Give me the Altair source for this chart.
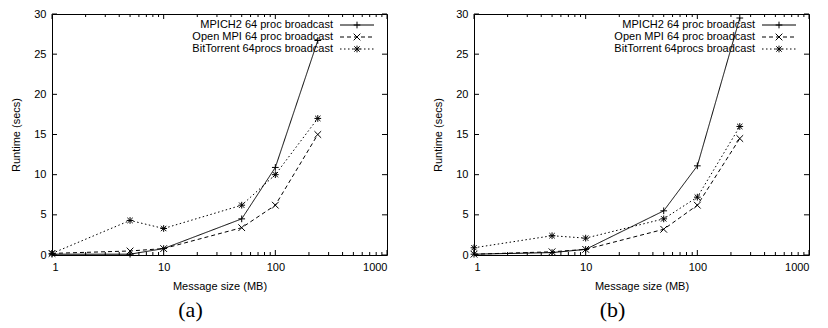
import altair as alt
import pandas as pd

sizes = [1, 5, 10, 50, 100, 240]
series_names = ["MPICH2 64 proc broadcast", "Open MPI 64 proc broadcast", "BitTorrent 64procs broadcast"]

a_mpich = [0.1, 0.1, 0.8, 4.5, 10.9, 26.7]
a_openmpi = [0.2, 0.5, 0.8, 3.4, 6.2, 15.0]
a_bittorrent = [0.2, 4.3, 3.3, 6.2, 10.0, 17.0]

b_mpich = [0.1, 0.3, 0.7, 5.5, 11.1, 29.5]
b_openmpi = [0.1, 0.4, 0.7, 3.2, 6.2, 14.5]
b_bittorrent = [0.9, 2.4, 2.1, 4.5, 7.2, 16.0]

x_major = [1, 10, 100, 1000]
x_minor = [2, 3, 4, 5, 6, 7, 8, 9, 20, 30, 40, 50, 60, 70, 80, 90, 200, 300, 400, 500, 600, 700, 800, 900]
y_major = [0, 5, 10, 15, 20, 25, 30]

W, H = 335, 241
FONT = "Liberation Sans"
dashes = [[1, 0], [4, 3], [1.5, 2.5]]
shapes = [
    "M-1,0L1,0M0,-1L0,1",
    "M-1,-1L1,1M-1,1L1,-1",
    "M-1,0L1,0M0,-1L0,1M-0.8,-0.8L0.8,0.8M-0.8,0.8L0.8,-0.8",
]

xscale = alt.Scale(type="log", domain=[1, 1000], nice=False)
yscale = alt.Scale(domain=[0, 30], nice=False, zero=False)


def panel(vals, label):
    rows = []
    for name, ys in zip(series_names, vals):
        for x, y in zip(sizes, ys):
            rows.append({"series": name, "size": x, "runtime": y})
    df = pd.DataFrame(rows)

    xenc = alt.X("size:Q", scale=xscale,
                 axis=alt.Axis(values=x_major, format="d", ticks=False, grid=False, domain=False,
                               labelPadding=6, title="Message size (MB)", titlePadding=8))
    yenc = alt.Y("runtime:Q", scale=yscale,
                 axis=alt.Axis(values=y_major, ticks=False, grid=False, domain=False,
                               labelPadding=6, title="Runtime (secs)", titlePadding=12))
    dash = alt.StrokeDash("series:N", scale=alt.Scale(domain=series_names, range=dashes), legend=None)
    shape = alt.Shape("series:N", scale=alt.Scale(domain=series_names, range=shapes), legend=None)

    base = alt.Chart(df)
    lines = base.mark_line(color="black", strokeWidth=1).encode(
        x=xenc, y=yenc, strokeDash=dash, detail="series:N", order="size:Q")
    pts = base.mark_point(filled=False, color="black", strokeWidth=1, size=45, opacity=1).encode(
        x="size:Q", y="runtime:Q", shape=shape)

    layers = [lines, pts]

    # inward ticks
    dxM = pd.DataFrame({"v": x_major})
    dxm = pd.DataFrame({"v": x_minor})
    dy = pd.DataFrame({"v": y_major})
    for d, ln in ((dxM, 5), (dxm, 3)):
        layers.append(alt.Chart(d).mark_rule(color="black", strokeWidth=1).encode(
            x=alt.X("v:Q", scale=xscale), y=alt.value(H), y2=alt.value(H - ln)))
        layers.append(alt.Chart(d).mark_rule(color="black", strokeWidth=1).encode(
            x=alt.X("v:Q", scale=xscale), y=alt.value(0), y2=alt.value(ln)))
    layers.append(alt.Chart(dy).mark_rule(color="black", strokeWidth=1).encode(
        y=alt.Y("v:Q", scale=yscale), x=alt.value(0), x2=alt.value(5)))
    layers.append(alt.Chart(dy).mark_rule(color="black", strokeWidth=1).encode(
        y=alt.Y("v:Q", scale=yscale), x=alt.value(W - 5), x2=alt.value(W)))

    # legend
    for i, name in enumerate(series_names):
        yy = 11 + 12 * i
        ld = pd.DataFrame({"series": [name]})
        layers.append(alt.Chart(ld).mark_text(align="right", baseline="middle", font=FONT,
                                               fontSize=11, color="black").encode(
            text="series:N", x=alt.value(281), y=alt.value(yy)))
        layers.append(alt.Chart(ld).mark_rule(color="black", strokeWidth=1, strokeDash=dashes[i]).encode(
            x=alt.value(288), x2=alt.value(322), y=alt.value(yy)))
        layers.append(alt.Chart(ld).mark_point(filled=False, color="black", strokeWidth=1, size=45,
                                                shape=shapes[i], opacity=1).encode(
            x=alt.value(305), y=alt.value(yy)))

    return alt.layer(*layers).properties(
        width=W, height=H,
        title=alt.TitleParams(label, orient="bottom", font="Liberation Serif", fontSize=22,
                              fontWeight="normal", color="black", dx=-29, offset=9, anchor="middle"))


chart = alt.hconcat(
    panel([a_mpich, a_openmpi, a_bittorrent], "(a)"),
    panel([b_mpich, b_openmpi, b_bittorrent], "(b)"),
    spacing=44,
).properties(padding={"top": -1, "left": 2, "right": 0, "bottom": 0}).configure_view(
    stroke="black", strokeWidth=1).configure_axis(
    labelFont=FONT, titleFont=FONT, labelFontSize=11, titleFontSize=11,
    labelColor="black", titleColor="black", titleFontWeight="normal")

chart.save("out.html", embed_options={"renderer": "svg", "actions": False})
